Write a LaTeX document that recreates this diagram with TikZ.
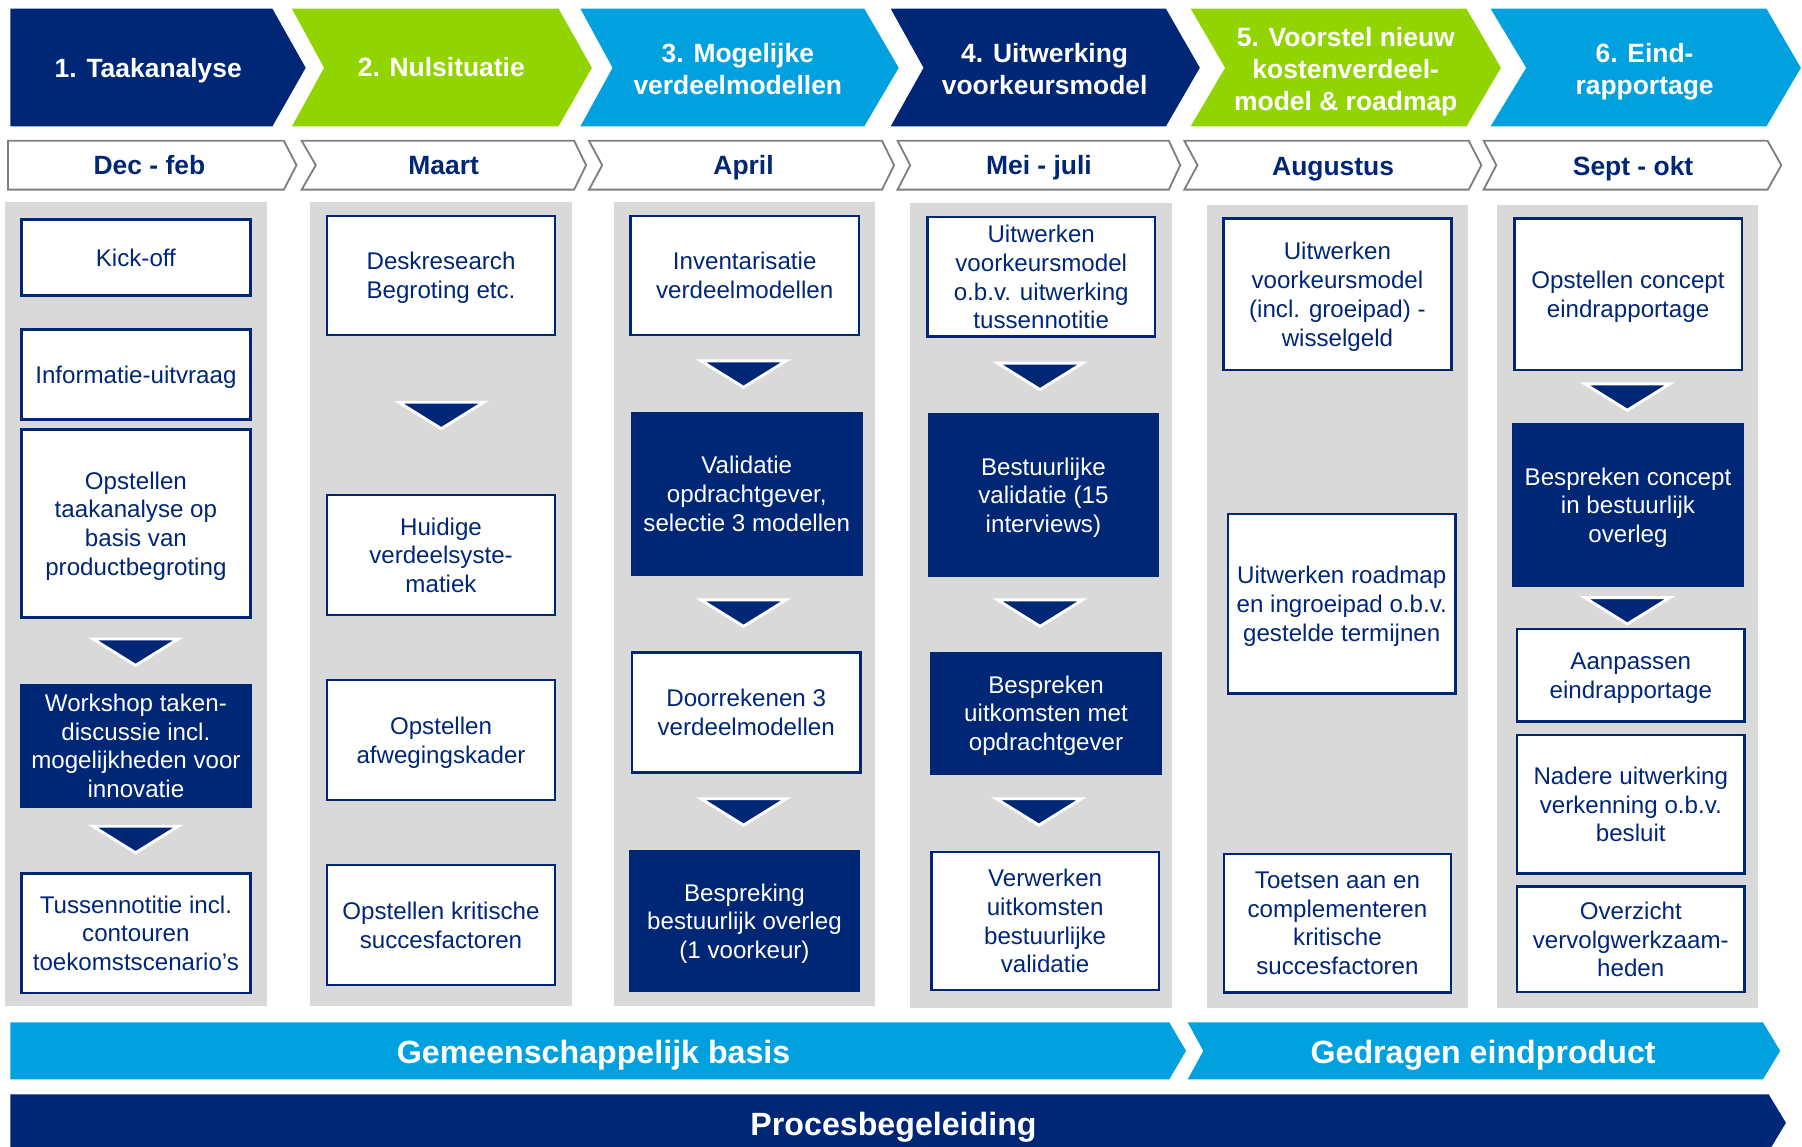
\documentclass[tikz,border=0pt]{standalone}
\usepackage{fontspec}
\setmainfont{Liberation Sans}
\definecolor{navy}{RGB}{0,39,118}
\definecolor{lgreen}{RGB}{146,212,0}
\definecolor{lblue}{RGB}{0,161,222}
\definecolor{colgray}{RGB}{217,217,217}
\definecolor{dategray}{RGB}{127,127,127}
\tikzset{
  hdr/.style={text=white, font=\bfseries\fontsize{23}{28}\selectfont, align=center, inner sep=0pt, text depth=0pt},
  hdrone/.style={hdr, text height=16.5pt, text depth=0pt},
  dat/.style={text=navy, font=\bfseries\fontsize{23}{28}\selectfont, inner sep=0pt, text height=16.5pt, text depth=0pt},
  wbox/.style={draw=navy, line width=2.2pt, fill=white, text=navy, font=\fontsize{21}{25}\selectfont, align=center, inner sep=0pt, text depth=0pt},
  dbox/.style={wbox, fill=navy, text=white},
  bartext/.style={text=white, font=\bfseries\fontsize{28}{32}\selectfont, inner sep=0pt, text height=20pt, text depth=0pt},
  colbg/.style={fill=colgray},
  datebox/.style={fill=white, draw=dategray, line width=1.6pt, line join=miter},
  darrow/.pic={\path[fill=navy, draw=white, line width=2.5pt, line join=miter, miter limit=10] (-37,0) -- (37,0) -- (0,23) -- cycle;}
}
\begin{document}
\begin{tikzpicture}[x=1pt,y=-1pt]
\useasboundingbox (0,0) rectangle (1568,998);
\clip (0,0) rectangle (1568,998);

% top chevrons
\fill[navy]   (9,7.5) -- (237,7.5) -- (266,59) -- (237,110) -- (9,110) -- cycle;
\fill[lgreen] (254,7.5) -- (486,7.5) -- (515,59) -- (486,110) -- (254,110) -- (282,59) -- cycle;
\fill[lblue]  (505,7.5) -- (752,7.5) -- (782,59) -- (752,110) -- (505,110) -- (533,59) -- cycle;
\fill[navy]   (775,7.5) -- (1014.5,7.5) -- (1044,59) -- (1014.5,110) -- (775,110) -- (803.6,59) -- cycle;
\fill[lgreen] (1036,7.5) -- (1276,7.5) -- (1306,59) -- (1276,110) -- (1036,110) -- (1066,59) -- cycle;
\fill[lblue]  (1297,7.5) -- (1537,7.5) -- (1567,59) -- (1537,110) -- (1297,110) -- (1328,59) -- cycle;

\node[hdrone] (h1) at (129,59.5) {1. Taakanalyse};
\node[hdrone] (h2) at (384,58.5) {2. Nulsituatie};
\node[hdr] (h3) at (642,60) {3. Mogelijke\\verdeelmodellen};
\node[hdr] (h4) at (909,60) {4. Uitwerking\\voorkeursmodel};
\node[hdr] (h5) at (1171,60) {5. Voorstel nieuw\\kostenverdeel-\\model \& roadmap};
\node[hdr] (h6) at (1431,60) {6. Eind-\\rapportage};

% date row
\path[datebox] (7,122.5) -- (247,122.5) -- (258,143.75) -- (247,165) -- (7,165) -- cycle;
\path[datebox] (262.5,122.5) -- (499.6,122.5) -- (510,143.75) -- (499.6,165) -- (262.5,165) -- (274.8,143.75) -- cycle;
\path[datebox] (512.5,122.5) -- (767.5,122.5) -- (778,143.75) -- (767.5,165) -- (512.5,165) -- (524,143.75) -- cycle;
\path[datebox] (781,122.5) -- (1017,122.5) -- (1027,143.75) -- (1017,165) -- (781,165) -- (792,143.75) -- cycle;
\path[datebox] (1030.5,122.5) -- (1278,122.5) -- (1289,143.75) -- (1278,165) -- (1030.5,165) -- (1042,143.75) -- cycle;
\path[datebox] (1291,122.5) -- (1538,122.5) -- (1550,143.75) -- (1538,165) -- (1291,165) -- (1302,143.75) -- cycle;

\node[dat] (t1) at (130,144) {Dec - feb};
\node[dat] (t2) at (386,144) {Maart};
\node[dat] (t3) at (647,144) {April};
\node[dat] (t4) at (904,143.5) {Mei - juli};
\node[dat] (t5) at (1160,144.5) {Augustus};
\node[dat] (t6) at (1421,144.5) {Sept - okt};

% gray columns
\fill[colbg] (4,176) rectangle (232,875.5);
\fill[colbg] (270,176) rectangle (498,875.5);
\fill[colbg] (534,176) rectangle (761,875.5);
\fill[colbg] (792,177) rectangle (1020,876.7);
\fill[colbg] (1050,178.4) rectangle (1277,877.5);
\fill[colbg] (1303,178.4) rectangle (1530,877.5);

% column 1
\node[wbox, minimum width=199.5pt, minimum height=66pt] (k1) at (118.25,224) {Kick-off};
\node[wbox, minimum width=199.5pt, minimum height=78.4pt] (k2) at (118.25,325.8) {Informatie-uitvraag};
\node[wbox, minimum width=199.5pt, minimum height=163.6pt] (k3) at (118.25,455.4) {Opstellen\\taakanalyse op\\basis van\\productbegroting};
\node[dbox, minimum width=199.5pt, minimum height=105.5pt] (k4) at (118.25,648.8) {Workshop taken-\\discussie incl.\\mogelijkheden voor\\innovatie};
\node[wbox, minimum width=199.5pt, minimum height=104pt] (k5) at (118.25,812) {Tussennotitie incl.\\contouren\\toekomstscenario’s};
\pic at (118,556) {darrow};
\pic at (118,719) {darrow};

% column 2
\node[wbox, minimum width=198.5pt, minimum height=103.5pt] (m1) at (383.75,239.75) {Deskresearch\\Begroting etc.};
\node[wbox, minimum width=198.5pt, minimum height=104.4pt] (m2) at (383.75,483) {Huidige\\verdeelsyste-\\matiek};
\node[wbox, minimum width=198.5pt, minimum height=104.5pt] (m3) at (383.75,644) {Opstellen\\afwegingskader};
\node[wbox, minimum width=198.5pt, minimum height=104.5pt] (m4) at (383.75,805) {Opstellen kritische\\succesfactoren};
\pic at (384,350) {darrow};

% column 3
\node[wbox, minimum width=199pt, minimum height=103.5pt] (a1) at (648,239.75) {Inventarisatie\\verdeelmodellen};
\node[dbox, minimum width=199.5pt, minimum height=140pt] (a2) at (649.8,429.75) {Validatie\\opdrachtgever,\\selectie 3 modellen};
\node[wbox, minimum width=198.5pt, minimum height=104.7pt] (a3) at (649.3,620) {Doorrekenen 3\\verdeelmodellen};
\node[dbox, minimum width=199.5pt, minimum height=121.6pt] (a4) at (647.8,801.4) {Bespreking\\bestuurlijk overleg\\(1 voorkeur)};
\pic at (647,314) {darrow};
\pic at (647,522) {darrow};
\pic at (647,695) {darrow};

% column 4
\node[wbox, minimum width=198pt, minimum height=104pt] (b1) at (906,241) {Uitwerken\\voorkeursmodel\\o.b.v. uitwerking\\tussennotitie};
\node[dbox, minimum width=199.5pt, minimum height=140.5pt] (b2) at (907.9,430.75) {Bestuurlijke\\validatie (15\\interviews)};
\node[dbox, minimum width=199.5pt, minimum height=105pt] (b3) at (910.2,620.5) {Bespreken\\uitkomsten met\\opdrachtgever};
\node[wbox, minimum width=198pt, minimum height=120.4pt] (b4) at (909.4,801.4) {Verwerken\\uitkomsten\\bestuurlijke\\validatie};
\pic at (905,316) {darrow};
\pic at (905,522) {darrow};
\pic at (904,695) {darrow};

% column 5
\node[wbox, minimum width=198.5pt, minimum height=132pt] (c1) at (1163.75,256) {Uitwerken\\voorkeursmodel\\(incl. groeipad) -\\wisselgeld};
\node[wbox, minimum width=198pt, minimum height=156pt] (c2) at (1167.5,525.3) {Uitwerken roadmap\\en ingroeipad o.b.v.\\gestelde termijnen};
\node[wbox, minimum width=197.5pt, minimum height=120.4pt] (c3) at (1163.75,803.4) {Toetsen aan en\\complementeren\\kritische\\succesfactoren};

% column 6
\node[wbox, minimum width=198pt, minimum height=132pt] (d1) at (1416.6,256) {Opstellen concept\\eindrapportage};
\node[dbox, minimum width=199.3pt, minimum height=140.4pt] (d2) at (1416.6,439.5) {Bespreken concept\\in bestuurlijk\\overleg};
\node[wbox, minimum width=198pt, minimum height=80.6pt] (d3) at (1419,587.7) {Aanpassen\\eindrapportage};
\node[wbox, minimum width=198pt, minimum height=120.3pt] (d4) at (1419,699.85) {Nadere uitwerking\\verkenning o.b.v.\\besluit};
\node[wbox, minimum width=198pt, minimum height=91.4pt] (d5) at (1419,817.3) {Overzicht\\vervolgwerkzaam-\\heden};
\pic at (1416,334) {darrow};
\pic at (1416,520) {darrow};

% bottom bars
\fill[lblue] (9,889.6) -- (1017.4,889.6) -- (1032,914.4) -- (1017.4,939.2) -- (9,939.2) -- cycle;
\fill[lblue] (1033.5,889.6) -- (1534,889.6) -- (1549,914.4) -- (1534,939.2) -- (1033.5,939.2) -- (1047,914.4) -- cycle;
\fill[navy] (9,952.2) -- (1539,952.2) -- (1554,977) -- (1539,1002) -- (9,1002) -- cycle;

\node[bartext] (g1) at (516.5,915) {Gemeenschappelijk basis};
\node[bartext] (g2) at (1290.5,915) {Gedragen eindproduct};
\node[bartext] (g3) at (777.5,978) {Procesbegeleiding};
\end{tikzpicture}
\end{document}
